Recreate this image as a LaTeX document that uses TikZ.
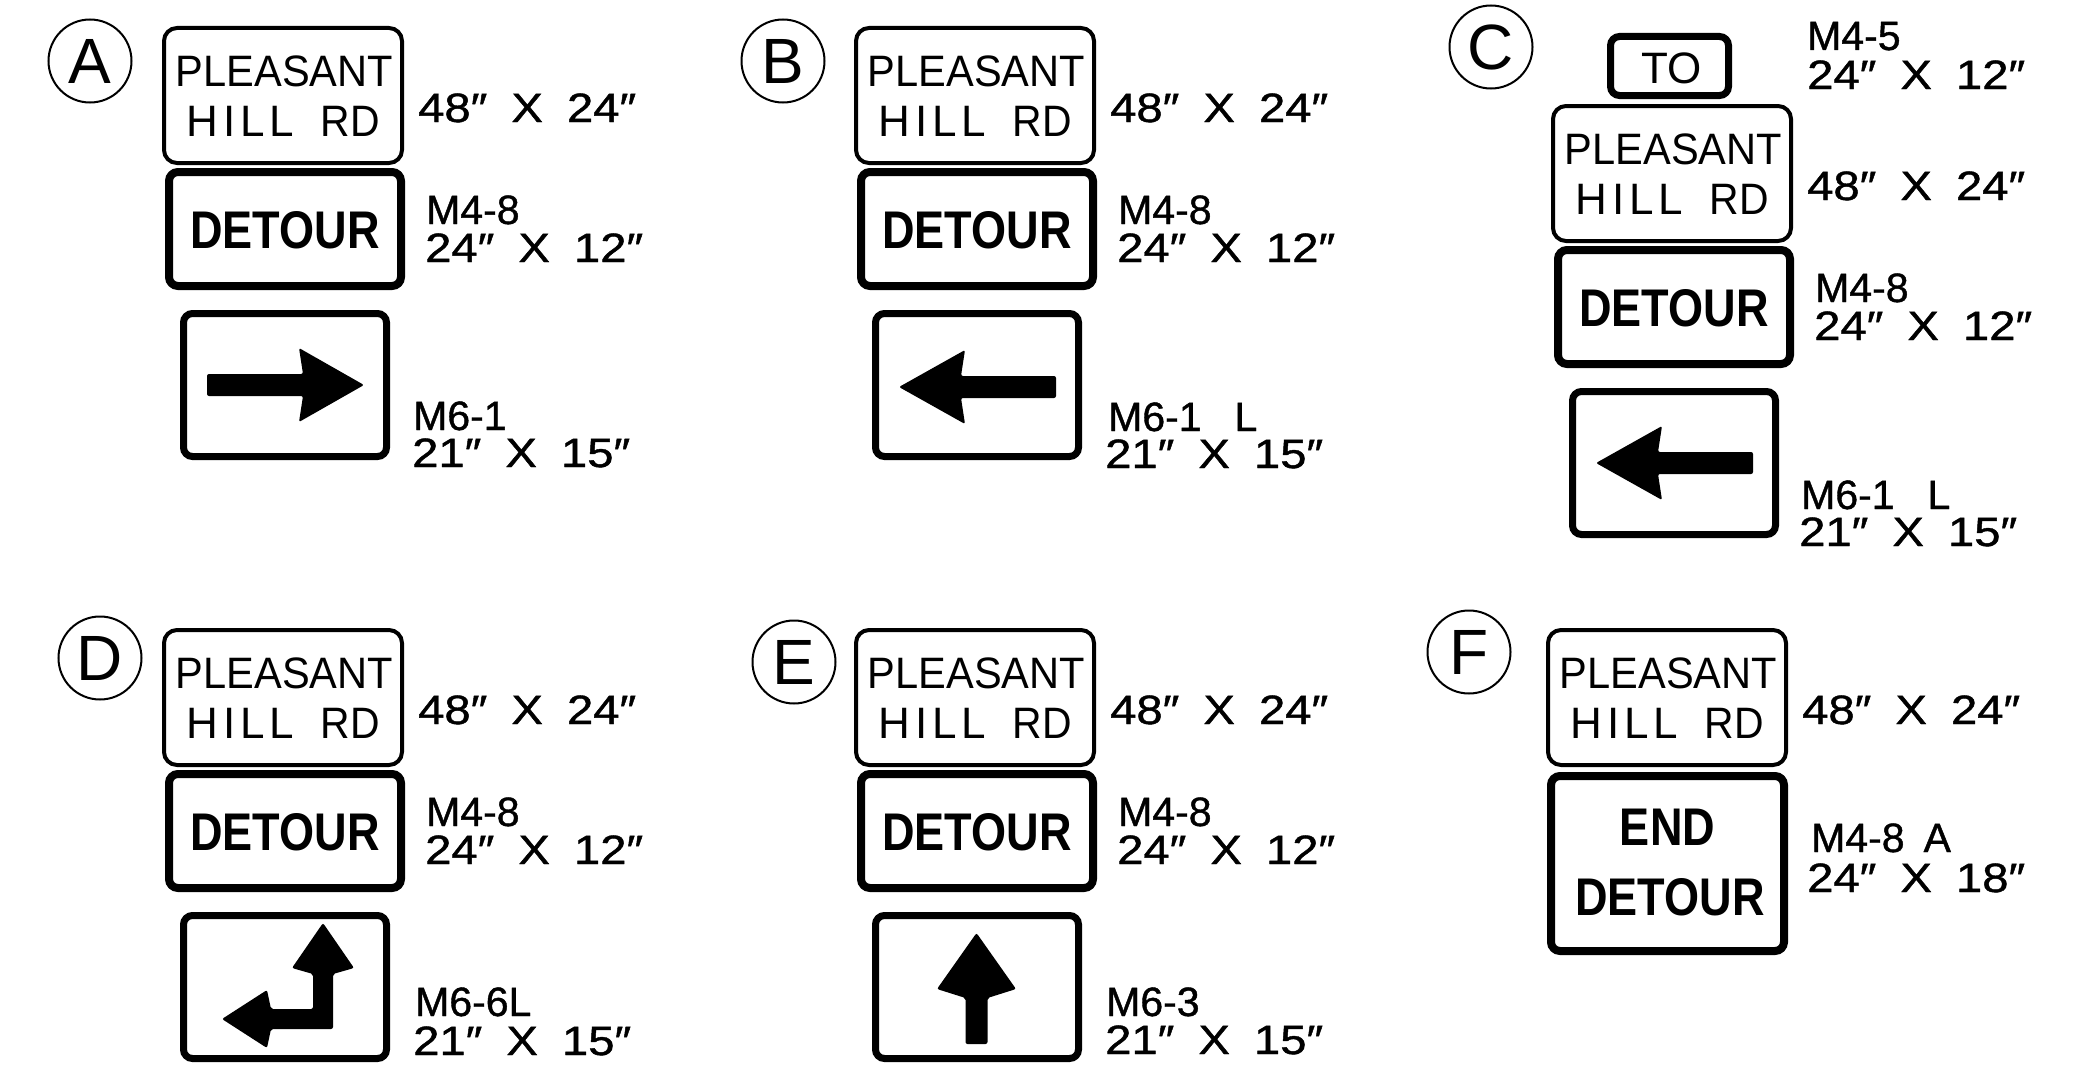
\documentclass[tikz,border=0pt]{standalone}
\usepackage{fontspec}
\usepackage{graphicx}
\setmainfont{Liberation Sans}
\newfontfamily\lblfont[FakeBold=1]{Liberation Sans}
\tikzset{
  phbox/.style={draw, line width=4pt, rounded corners=13pt, minimum width=238pt, minimum height=135pt, inner sep=0pt},
  thickbox/.style={draw, line width=8pt, rounded corners=9pt, inner sep=0pt},
  signtxt/.style={inner sep=0pt, anchor=base, font=\fontsize{44}{44}\selectfont},
  bigtxt/.style={inner sep=0pt, anchor=base, font=\bfseries\fontsize{53}{53}\selectfont},
  lbl/.style={inner sep=0pt, anchor=base west, font=\lblfont\fontsize{41}{41}\selectfont},
  circ/.style={draw, circle, line width=2pt, minimum size=83pt, inner sep=0pt, font=\fontsize{64}{64}\selectfont},
  arrowfill/.style={fill=black, draw=none, rounded corners=2pt},
}
\newcommand{\dimt}[2]{\scalebox{1.15}[1]{#1\hspace{21pt}X\hspace{21pt}#2}}
\newcommand{\hillrd}{H\kern5pt I\kern5pt L\kern4pt L\hspace{27pt}\scalebox{0.93}[1]{RD}}
\newcommand{\phsign}[3]{%
  \begin{scope}[shift={(#2,#3)}]
    \node[phbox] (#1ph) at (283,95.5) {};
    \node[signtxt] (#1pa) at (284.5,86) {\scalebox{0.945}[1]{PLEASANT}};
    \node[signtxt] (#1pb) at (283.5,136) {\hillrd};
    \node[lbl] (#1da) at (418,122) {\dimt{48″}{24″}};
  \end{scope}}
\newcommand{\dtsign}[3]{%
  \begin{scope}[shift={(#2,#3)}]
    \node[thickbox, minimum width=232pt, minimum height=114pt] (#1dt) at (285,229) {};
    \node[bigtxt] (#1dtt) at (285,248) {\scalebox{0.85}[1]{DETOUR}};
    \node[lbl] (#1ca) at (426,224) {M4-8};
    \node[lbl] (#1db) at (425,262) {\dimt{24″}{12″}};
  \end{scope}}
\newcommand{\arsign}[3]{%
  \begin{scope}[shift={(#2,#3)}]
    \node[thickbox, line width=7pt, minimum width=203pt, minimum height=143pt] (#1as) at (285,385) {};
  \end{scope}}
\begin{document}
\begin{tikzpicture}[x=1pt,y=-1pt]
\path[fill=white] (0,0) rectangle (2091,1073);
\useasboundingbox (0,0) rectangle (2091,1073);

% circles
\node[circ] (cA) at (90,61) {A};
\node[circ] (cB) at (783,61) {B};
\node[circ] (cC) at (1491,47) {C};
\node[circ] (cD) at (100,658) {D};
\node[circ] (cE) at (794,662) {E};
\node[circ] (cF) at (1469,652) {F};

% ---- A ----
\phsign{A}{0}{0}
\dtsign{A}{0}{0}
\arsign{A}{0}{0}
\fill[arrowfill] (207,374) -- (303,374) -- (299,348) -- (364,385) -- (299,422) -- (303,396) -- (207,396) -- cycle;
\node[lbl] (Aca3) at (413,430) {M6-1};
\node[lbl] (Adc) at (412,467) {\dimt{21″}{15″}};

% ---- B ----
\phsign{B}{692}{0}
\dtsign{B}{692}{0}
\arsign{B}{692}{0}
\begin{scope}[shift={(692,0)}]
\fill[arrowfill] (364,376) -- (269,376) -- (273,350) -- (207,387) -- (273,424) -- (269,398) -- (364,398) -- cycle;
\node[lbl] (Bca3) at (416,431) {M6-1\hspace{33pt}L};
\node[lbl] (Bdc) at (413,468) {\dimt{21″}{15″}};
\end{scope}

% ---- C ----
\node[thickbox, line width=7pt, minimum width=118pt, minimum height=59pt] (Cto) at (1669.5,66) {};
\node[signtxt] (Ctot) at (1671.5,83) {TO};
\node[lbl] (Cc0) at (1807,50) {M4-5};
\node[lbl] (Cd0) at (1807,89) {\dimt{24″}{12″}};
\phsign{C}{1389}{78}
\dtsign{C}{1389}{78}
\arsign{C}{1389}{78}
\begin{scope}[shift={(1389,78)}]
\fill[arrowfill] (364,374) -- (269,374) -- (273,348) -- (207,385) -- (273,422) -- (269,396) -- (364,396) -- cycle;
\node[lbl] (Cca3) at (412,431) {M6-1\hspace{33pt}L};
\node[lbl] (Cdc) at (410,468) {\dimt{21″}{15″}};
\end{scope}

% ---- D ----
\phsign{D}{0}{602}
\dtsign{D}{0}{602}
\arsign{D}{0}{602}
\fill[arrowfill] (222,1019) -- (267,990) -- (271,1009) -- (313,1009) -- (313,974) -- (292,968) -- (323,923) -- (354,968) -- (333,974) -- (333,1029) -- (271,1029) -- (267,1048) -- cycle;
\node[lbl] (Dca3) at (415,1016) {M6-6L};
\node[lbl] (Ddc) at (413,1055) {\dimt{21″}{15″}};

% ---- E ----
\phsign{E}{692}{602}
\dtsign{E}{692}{602}
\arsign{E}{692}{602}
\begin{scope}[shift={(692,602)}]
\fill[arrowfill] (273.5,442) -- (273.5,396) -- (245,387) -- (284.5,331) -- (324,387) -- (295.5,396) -- (295.5,442) -- cycle;
\end{scope}
\node[lbl] (Eca3) at (1106,1016) {M6-3};
\node[lbl] (Edc) at (1105,1054) {\dimt{21″}{15″}};

% ---- F ----
\phsign{F}{1384}{602}
\node[thickbox, minimum width=233pt, minimum height=175pt] (Fed) at (1667.5,863.5) {};
\node[bigtxt] (Fe1) at (1667.5,845) {\scalebox{0.85}[1]{END}};
\node[bigtxt] (Fe2) at (1670,915) {\scalebox{0.85}[1]{DETOUR}};
\node[lbl] (Fca) at (1811,852) {M4-8\hspace{19pt}A};
\node[lbl] (Fdb) at (1807,892) {\dimt{24″}{18″}};
\end{tikzpicture}
\end{document}
